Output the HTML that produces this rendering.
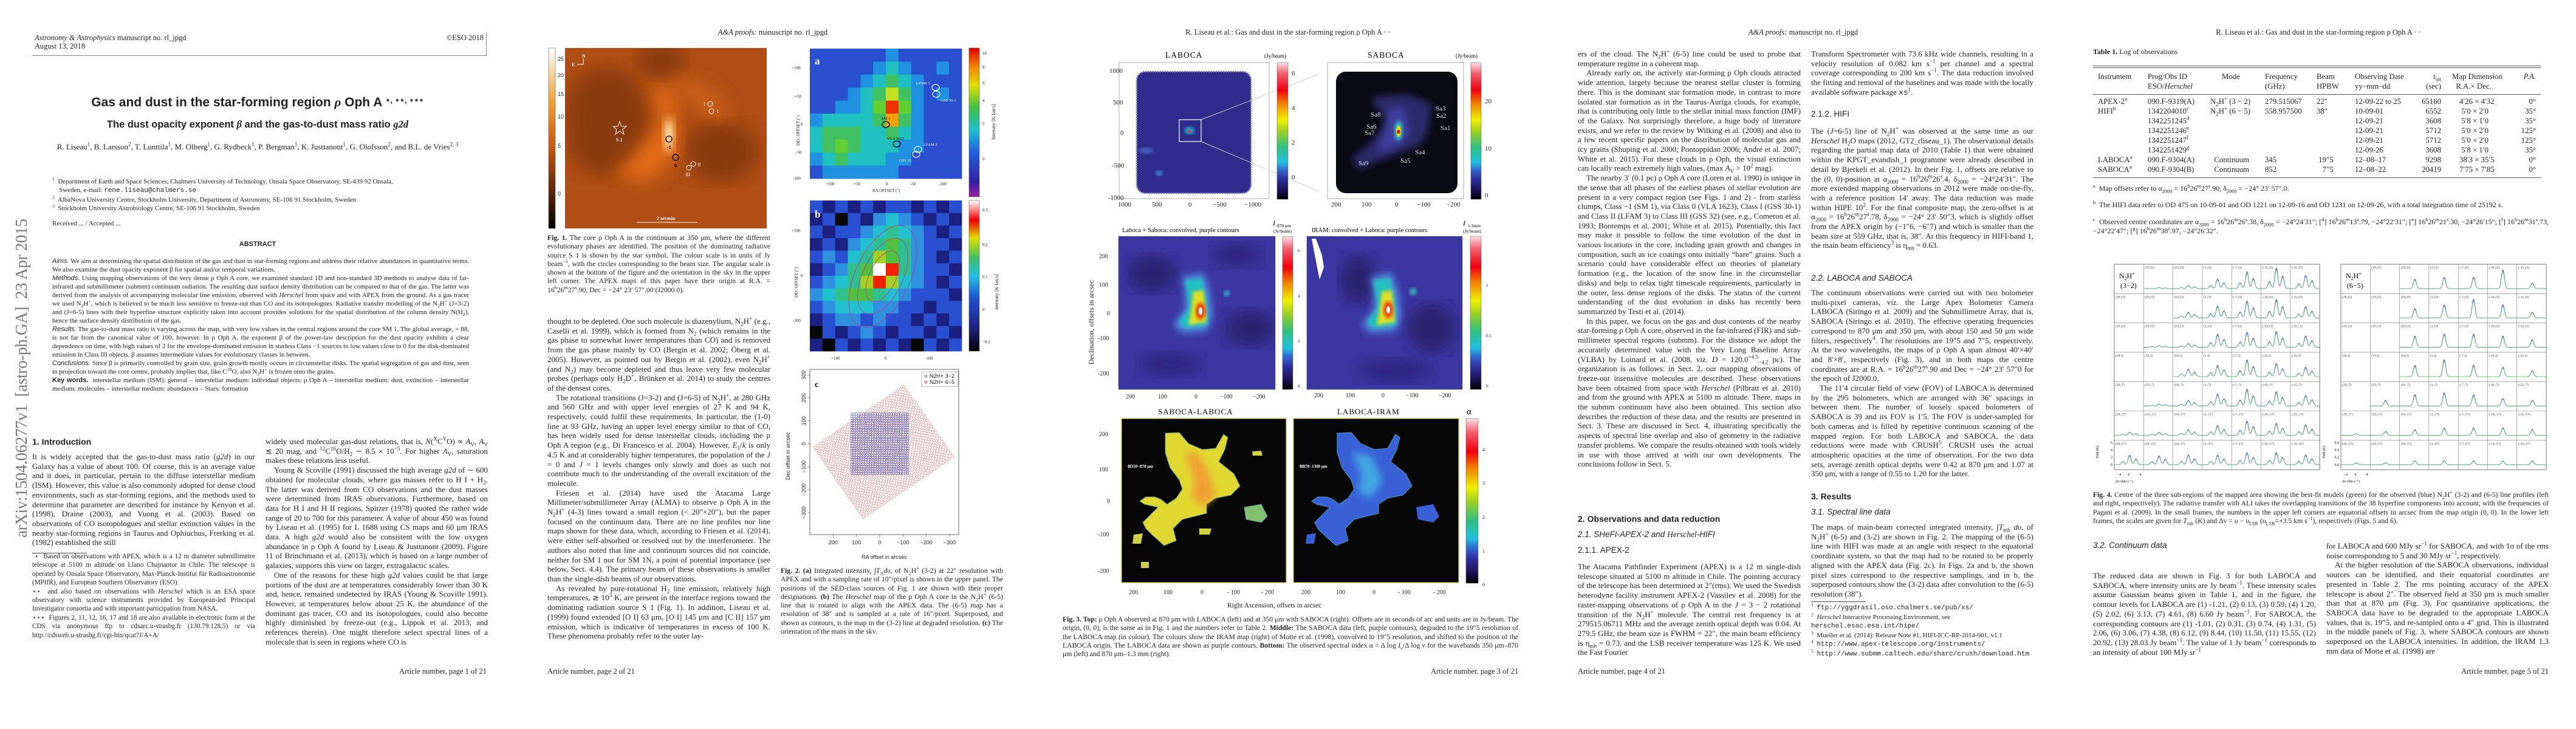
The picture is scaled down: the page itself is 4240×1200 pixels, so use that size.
<!DOCTYPE html>
<html><head><meta charset="utf-8">
<style>
*{margin:0;padding:0;box-sizing:border-box}
body{width:4240px;height:1200px;background:#fff;overflow:hidden;font-family:"Liberation Serif",serif;color:#222}
sup,sub{line-height:0;font-size:70%}
.page{position:absolute;top:0;width:848px;height:1200px;background:#fff;overflow:hidden}
.abs{position:absolute}
.col{position:absolute;font-size:13px;line-height:15.7px;text-align:justify;hyphens:auto;overflow:hidden}
.col p{text-indent:14px}
.col p.ni{text-indent:0}
.cap{position:absolute;font-size:11.7px;line-height:14.3px;text-align:justify;overflow:hidden}
.hdr{position:absolute;top:46px;width:848px;text-align:center;font-size:12.5px}
.pno{position:absolute;top:1098px;font-size:12.5px}
.sec{font-family:"Liberation Sans",sans-serif;font-weight:bold;font-size:14px}
.sub{font-family:"Liberation Sans",sans-serif;font-style:italic;font-size:13.5px}
.sub2{font-family:"Liberation Sans",sans-serif;font-size:13.5px}
.tk{font-family:"Liberation Sans",sans-serif;font-size:9px;fill:#222}
.tks{font-family:"Liberation Serif",serif;font-size:11px;fill:#222}
svg text{font-family:"Liberation Serif",serif}
</style></head><body>

<!-- ================= PAGE 1 ================= -->
<div class="page" style="left:0">
  <div class="abs" style="left:53px;top:53px;width:748px;height:39px;border:1px solid #888;border-top:none;border-left:none;font-size:12.5px;line-height:14px;padding:2px 4px">
    <div><i>Astronomy &amp; Astrophysics</i> manuscript no. rl_jpgd<span style="float:right">©ESO 2018</span></div>
    <div>August 13, 2018</div>
  </div>
  <div class="abs" style="left:20px;top:885px;width:542px;height:36px;transform-origin:0 0;transform:rotate(-90deg);font-size:27px;color:#777;white-space:nowrap;letter-spacing:-0.3px">arXiv:1504.06277v1&nbsp; [astro-ph.GA]&nbsp; 23 Apr 2015</div>
  <div class="abs" style="left:0;width:848px;top:156px;text-align:center;font-family:'Liberation Sans',sans-serif;font-weight:bold;font-size:21px">Gas and dust in the star-forming region <i style="font-family:'Liberation Serif'">ρ</i> Oph A <span style="font-size:13px;vertical-align:6px">⋆, ⋆⋆, ⋆⋆⋆</span></div>
  <div class="abs" style="left:0;width:848px;top:195px;text-align:center;font-family:'Liberation Sans',sans-serif;font-weight:bold;font-size:16.5px">The dust opacity exponent <i style="font-family:'Liberation Serif'">β</i> and the gas-to-dust mass ratio <i style="font-family:'Liberation Serif'">g2d</i></div>
  <div class="abs" style="left:60px;width:728px;top:233px;text-align:center;font-size:13px;line-height:17px">R. Liseau<sup>1</sup>, B. Larsson<sup>2</sup>, T. Lunttila<sup>1</sup>, M. Olberg<sup>1</sup>, G. Rydbeck<sup>1</sup>, P. Bergman<sup>1</sup>, K. Justtanont<sup>1</sup>, G. Olofsson<sup>2</sup>, and B.L. de Vries<sup>2, 3</sup></div>
  <div class="abs" style="left:86px;width:686px;top:292px;font-size:11px;line-height:14.3px">
    <div><sup>1</sup>&nbsp; Department of Earth and Space Sciences, Chalmers University of Technology, Onsala Space Observatory, SE-439 92 Onsala,<br>&nbsp;&nbsp;&nbsp; Sweden, e-mail: <span style="font-family:'Liberation Mono'">rene.liseau@chalmers.se</span></div>
    <div><sup>2</sup>&nbsp; AlbaNova University Centre, Stockholm University, Department of Astronomy, SE-106 91 Stockholm, Sweden</div>
    <div><sup>3</sup>&nbsp; Stockholm University Astrobiology Centre, SE-106 91 Stockholm, Sweden</div>
    <div style="margin-top:11px">Received ... / Accepted ...</div>
  </div>
  <div class="abs" style="left:0;width:848px;top:396px;text-align:center;font-family:'Liberation Sans';font-weight:bold;font-size:11px">ABSTRACT</div>
  <div class="abs" style="left:86px;width:686px;top:423px;height:265px;font-size:11px;line-height:14px;text-align:justify;overflow:hidden">
    <i style="font-family:'Liberation Sans'">Aims.</i> We aim at determining the spatial distribution of the gas and dust in star-forming regions and address their relative abundances in quantitative terms. We also examine the dust opacity exponent β for spatial and/or temporal variations.<br>
    <i style="font-family:'Liberation Sans'">Methods.</i> Using mapping observations of the very dense ρ Oph A core, we examined standard 1D and non-standard 3D methods to analyse data of far-infrared and submillimeter (submm) continuum radiation. The resulting dust surface density distribution can be compared to that of the gas. The latter was derived from the analysis of accompanying molecular line emission, observed with <i>Herschel</i> from space and with APEX from the ground. As a gas tracer we used N<sub>2</sub>H<sup>+</sup>, which is believed to be much less sensitive to freeze-out than CO and its isotopologues. Radiative transfer modelling of the N<sub>2</sub>H<sup>+</sup> (J=3-2) and (J=6-5) lines with their hyperfine structure explicitly taken into account provides solutions for the spatial distribution of the column density N(H<sub>2</sub>), hence the surface density distribution of the gas.<br>
    <i style="font-family:'Liberation Sans'">Results.</i> The gas-to-dust mass ratio is varying across the map, with very low values in the central regions around the core SM 1. The global average, = 88, is not far from the canonical value of 100, however. In ρ Oph A, the exponent β of the power-law description for the dust opacity exhibits a clear dependence on time, with high values of 2 for the envelope-dominated emission in starless Class −1 sources to low values close to 0 for the disk-dominated emission in Class III objects. β assumes intermediate values for evolutionary classes in between.<br>
    <i style="font-family:'Liberation Sans'">Conclusions.</i> Since β is primarily controlled by grain size, grain growth mostly occurs in circumstellar disks. The spatial segregation of gas and dust, seen in projection toward the core centre, probably implies that, like C<sup>18</sup>O, also N<sub>2</sub>H<sup>+</sup> is frozen onto the grains.<br>
    <b style="font-family:'Liberation Sans'">Key words.</b>&nbsp; interstellar medium (ISM): general – interstellar medium: individual objects: ρ Oph A – interstellar medium: dust, extinction – interstellar medium: molecules – interstellar medium: abundances – Stars: formation
  </div>
  <div class="abs sec" style="left:53px;top:719px">1. Introduction</div>
  <div class="col" style="left:53px;top:744px;width:367px;height:160px">
    <p class="ni">It is widely accepted that the gas-to-dust mass ratio (<i>g2d</i>) in our Galaxy has a value of about 100. Of course, this is an average value and it does, in particular, pertain to the diffuse interstellar medium (ISM). However, this value is also commonly adopted for dense cloud environments, such as star-forming regions, and the methods used to determine that parameter are described for instance by Kenyon et al. (1998), Draine (2003), and Vuong et al. (2003). Based on observations of CO isotopologues and stellar extinction values in the nearby star-forming regions in Taurus and Ophiuchus, Frerking et al. (1982) established the still</p>
  </div>
  <div class="abs" style="left:53px;top:910px;width:90px;border-top:1px solid #444"></div>
  <div class="abs" style="left:53px;top:909px;width:367px;height:170px;font-size:11.2px;line-height:14.4px;text-align:justify;overflow:hidden">
    <div>&nbsp;⋆&nbsp; Based on observations with APEX, which is a 12 m diameter submillimetre telescope at 5100 m altitude on Llano Chajnantor in Chile. The telescope is operated by Onsala Space Observatory, Max-Planck-Institut für Radioastronomie (MPIfR), and European Southern Observatory (ESO).</div>
    <div>⋆⋆&nbsp; and also based on observations with <i>Herschel</i> which is an ESA space observatory with science instruments provided by European-led Principal Investigator consortia and with important participation from NASA.</div>
    <div>⋆⋆⋆&nbsp; Figures 2, 11, 12, 16, 17 and 18 are also available in electronic form at the CDS via anonymous ftp to cdsarc.u-strasbg.fr (130.79.128.5) or via http://cdsweb.u-strasbg.fr/cgi-bin/qcat?J/A+A/</div>
  </div>
  <div class="col" style="left:437px;top:719px;width:366px;height:362px">
    <p class="ni">widely used molecular gas-dust relations, that is, <i>N</i>(<sup>X</sup>C<sup>Y</sup>O) ∝ <i>A</i><sub>V</sub>, <i>A</i><sub>V</sub> ≲ 20 mag, and <sup>12</sup>C<sup>16</sup>O/H<sub>2</sub> ∼ 8.5 × 10<sup>−5</sup>. For higher <i>A</i><sub>V</sub>, saturation makes these relations less useful.</p>
    <p>Young &amp; Scoville (1991) discussed the high average <i>g2d</i> of ∼ 600 obtained for molecular clouds, where gas masses refer to H I + H<sub>2</sub>. The latter was derived from CO observations and the dust masses were determined from IRAS observations. Furthermore, based on data for H I and H II regions, Spitzer (1978) quoted the rather wide range of 20 to 700 for this parameter. A value of about 450 was found by Liseau et al. (1995) for L 1688 using CS maps and 60 μm IRAS data. A high <i>g2d</i> would also be consistent with the low oxygen abundance in ρ Oph A found by Liseau &amp; Justtanont (2009). Figure 11 of Brinchmann et al. (2013), which is based on a large number of galaxies, supports this view on larger, extragalactic scales.</p>
    <p>One of the reasons for these high <i>g2d</i> values could be that large portions of the dust are at temperatures considerably lower than 30 K and, hence, remained undetected by IRAS (Young &amp; Scoville 1991). However, at temperatures below about 25 K, the abundance of the dominant gas tracer, CO and its isotopologues, could also become highly diminished by freeze-out (e.g., Lippok et al. 2013, and references therein). One might therefore select spectral lines of a molecule that is seen in regions where CO is</p>
  </div>
  <div class="pno" style="right:47px">Article number, page 1 of 21</div>
</div>

<!-- ================= PAGE 2 ================= -->
<div class="page" style="left:848px">
  <div class="hdr"><i>A&amp;A proofs:</i> manuscript no. rl_jpgd</div>
  <svg class="abs" style="left:0;top:0" width="848" height="1200">
    <defs>
      <linearGradient id="cbOr" x1="0" y1="1" x2="0" y2="0">
        <stop offset="0" stop-color="#000"/><stop offset="0.2" stop-color="#5a2408"/><stop offset="0.45" stop-color="#c8560e"/><stop offset="0.7" stop-color="#f0a030"/><stop offset="1" stop-color="#fff"/>
      </linearGradient>
      <linearGradient id="cbJet" x1="0" y1="1" x2="0" y2="0">
        <stop offset="0" stop-color="#a020a0"/><stop offset="0.1" stop-color="#3020a0"/><stop offset="0.3" stop-color="#2060e0"/><stop offset="0.45" stop-color="#20c0d0"/><stop offset="0.6" stop-color="#40c040"/><stop offset="0.75" stop-color="#e0e000"/><stop offset="0.88" stop-color="#f08000"/><stop offset="1" stop-color="#e00000"/>
      </linearGradient>
      <linearGradient id="cbJet2" x1="0" y1="1" x2="0" y2="0">
        <stop offset="0" stop-color="#000"/><stop offset="0.15" stop-color="#202080"/><stop offset="0.35" stop-color="#2050d0"/><stop offset="0.5" stop-color="#20c0e0"/><stop offset="0.62" stop-color="#40c060"/><stop offset="0.75" stop-color="#e0e000"/><stop offset="0.87" stop-color="#f00000"/><stop offset="1" stop-color="#fff"/>
      </linearGradient>
      <filter id="bl8"><feGaussianBlur stdDeviation="8"/></filter>
      <filter id="bl14"><feGaussianBlur stdDeviation="14"/></filter>
      <clipPath id="f1clip"><rect x="82" y="79" width="332" height="297"/></clipPath>
    </defs>
    <g>
      <rect x="55" y="79" width="11" height="297" fill="url(#cbOr)" stroke="#666" stroke-width="0.6"/>
      <text class="tk" x="70" y="100" font-size="6">25</text><text class="tk" x="70" y="127" font-size="6">20</text><text class="tk" x="70" y="158" font-size="6">15</text><text class="tk" x="70" y="195" font-size="6">10</text><text class="tk" x="70" y="243" font-size="6">5</text><text class="tk" x="70" y="322" font-size="6">0</text>
    </g>
    <g clip-path="url(#f1clip)">
      <rect x="82" y="79" width="332" height="297" fill="#b04e16"/>
      <ellipse cx="150" cy="200" rx="70" ry="90" fill="#8a3a10" filter="url(#bl14)"/>
      <ellipse cx="340" cy="250" rx="60" ry="50" fill="#8a3a10" filter="url(#bl14)"/>
      <ellipse cx="240" cy="100" rx="40" ry="30" fill="#8a3a10" filter="url(#bl14)"/>
      <path d="M225 140 L265 150 L270 250 L220 300 L160 290 L200 250 L240 200 Z" fill="#e26a18" filter="url(#bl14)"/>
      <path d="M260 120 L330 150 L360 200 L320 190 L270 160 Z" fill="#cc5e16" filter="url(#bl14)"/>
      <ellipse cx="253" cy="222" rx="10" ry="30" fill="#f5c070" filter="url(#bl8)"/>
      <ellipse cx="253" cy="222" rx="5" ry="18" fill="#fff8e8" filter="url(#bl8)"/>
      <polygon points="172,200 175,208 183,208 177,213 179,221 172,216 165,221 167,213 161,208 169,208" fill="none" stroke="#fff" stroke-width="1"/>
      <text x="166" y="233" font-size="8" fill="#fff" font-weight="bold">S 1</text>
      <circle cx="253" cy="229" r="5" fill="none" stroke="#000" stroke-width="1.3"/><text x="250" y="245" font-size="8" font-weight="bold">-1</text>
      <circle cx="264" cy="259" r="5" fill="none" stroke="#000" stroke-width="1.3"/><text x="262" y="275" font-size="8" font-weight="bold">0</text>
      <circle cx="321" cy="171" r="4" fill="none" stroke="#fff"/><text x="310" y="174" font-size="8" fill="#fff">I</text>
      <circle cx="323" cy="183" r="4" fill="none" stroke="#fff"/><text x="332" y="186" font-size="8" fill="#fff">I</text>
      <circle cx="293" cy="270" r="4" fill="none" stroke="#fff"/><circle cx="286" cy="276" r="4" fill="none" stroke="#fff"/>
      <text x="300" y="274" font-size="8" fill="#fff">II</text><text x="280" y="290" font-size="8" fill="#fff">III</text>
      <line x1="200" y1="366" x2="300" y2="366" stroke="#fff" stroke-width="1"/><text x="233" y="362" font-size="8" fill="#fff" font-weight="bold">2 arcmin</text>
      <text x="93" y="109" font-size="8" fill="#fff" font-weight="bold">E</text><text x="110" y="95" font-size="8" fill="#fff" font-weight="bold">N</text>
      <path d="M102 106 H112 V96" fill="none" stroke="#fff"/>
    </g>
    <g id="fig2a"></g>
    <g id="fig2b"></g>
    <rect x="747" y="79" width="17" height="245" fill="url(#cbJet)" stroke="#444" stroke-width="0.5"/>
    <rect x="747" y="330" width="17" height="248" fill="url(#cbJet2)" stroke="#444" stroke-width="0.5"/>
    <g class="tk" font-size="7">
      <text x="769" y="90" font-size="7">10</text><text x="769" y="113" font-size="7">8</text><text x="769" y="139" font-size="7">6</text><text x="769" y="168" font-size="7">4</text><text x="769" y="206" font-size="7">2</text><text x="769" y="264" font-size="7">0</text>
      <text x="769" y="348" font-size="7">0.3</text><text x="769" y="405" font-size="7">0.2</text><text x="769" y="458" font-size="7">0.1</text><text x="769" y="512" font-size="7">0</text><text x="769" y="565" font-size="7">−0.1</text>
      <text x="790" y="230" font-size="8" transform="rotate(-90 790 230)">Intensity [K km/s]</text>
      <text x="795" y="510" font-size="8" transform="rotate(-90 795 510)">Intensity [K km/s]</text>
      <text x="455" y="114" font-size="7">+100</text><text x="460" y="161" font-size="7">+50</text><text x="470" y="207" font-size="7">0</text><text x="462" y="253" font-size="7">-50</text><text x="457" y="296" font-size="7">-100</text>
      <text x="511" y="305" font-size="7">+100</text><text x="557" y="305" font-size="7">+50</text><text x="610" y="305" font-size="7">0</text><text x="650" y="305" font-size="7">-50</text><text x="697" y="305" font-size="7">-100</text>
      <text x="588" y="316" font-size="7">RA OFFSET (")</text>
      <text x="468" y="240" font-size="7" transform="rotate(-90 468 240)">DEC OFFSET (")</text>
      <text x="455" y="382" font-size="7">+100</text><text x="470" y="456" font-size="7">0</text><text x="457" y="530" font-size="7">-100</text>
      <text x="520" y="592" font-size="7">+100</text><text x="608" y="592" font-size="7">0</text><text x="675" y="592" font-size="7">-100</text>
      <text x="465" y="490" font-size="7" transform="rotate(-90 465 490)">DEC OFFSET (")</text>
    </g>
    <text x="493" y="106" font-size="17" fill="#fff" font-weight="bold">a</text>
    <text x="493" y="358" font-size="17" fill="#fff" font-weight="bold">b</text>
    <rect x="485" y="608" width="245" height="272" fill="#fff" stroke="#444" stroke-width="0.8"/>
    <g id="fig2c"></g>
    <g id="fig2cAxes" class="tk"></g>
    <text x="493" y="637" font-size="14" font-weight="bold" font-family="Liberation Sans">c</text>
    <rect x="669" y="612" width="60" height="24" fill="#fff" stroke="#666" stroke-width="0.5"/>
    <circle cx="676" cy="619" r="2" fill="none" stroke="#3040b0" stroke-width="0.8"/><text class="tk" x="682" y="622" font-size="7">N2H+ 3−2</text>
    <circle cx="676" cy="629" r="2" fill="none" stroke="#d02020" stroke-width="0.8"/><text class="tk" x="682" y="632" font-size="7">N2H+ 6−5</text>
    <text class="tk" x="570" y="920" font-size="8">RA offset in arcsec</text>
    <text class="tk" x="452" y="790" font-size="8" transform="rotate(-90 452 790)">Dec offset in arcsec</text>
  </svg>
  <div class="cap" style="left:53px;top:385px;width:367px;height:100px"><b>Fig. 1.</b> The core ρ Oph A in the continuum at 350 μm, where the different evolutionary phases are identified. The position of the dominating radiative source S 1 is shown by the star symbol. The colour scale is in units of Jy beam<sup>−1</sup>, with the circles corresponding to the beam size. The angular scale is shown at the bottom of the figure and the orientation in the sky in the upper left corner. The APEX maps of this paper have their origin at R.A. = 16<sup>h</sup>26<sup>m</sup>27<sup>s</sup>.90, Dec = −24° 23′ 57″.00 (J2000.0).</div>
  <div class="col" style="left:53px;top:521px;width:367px;height:558px">
    <p class="ni">thought to be depleted. One such molecule is diazenylium, N<sub>2</sub>H<sup>+</sup> (e.g., Caselli et al. 1999), which is formed from N<sub>2</sub> (which remains in the gas phase to somewhat lower temperatures than CO) and is removed from the gas phase mainly by CO (Bergin et al. 2002; Öberg et al. 2005). However, as pointed out by Bergin et al. (2002), even N<sub>2</sub>H<sup>+</sup> (and N<sub>2</sub>) may become depleted and thus leave very few molecular probes (perhaps only H<sub>2</sub>D<sup>+</sup>, Brünken et al. 2014) to study the centres of the densest cores.</p>
    <p>The rotational transitions (J=3-2) and (J=6-5) of N<sub>2</sub>H<sup>+</sup>, at 280 GHz and 560 GHz and with upper level energies of 27 K and 94 K, respectively, could fulfil these requirements. In particular, the (1-0) line at 93 GHz, having an upper level energy similar to that of CO, has been widely used for dense interstellar clouds, including the ρ Oph A region (e.g., Di Francesco et al. 2004). However, <i>E</i><sub>1</sub>/<i>k</i> is only 4.5 K and at considerably higher temperatures, the population of the <i>J</i> = 0 and <i>J</i> = 1 levels changes only slowly and does as such not contribute much to the understanding of the overall excitation of the molecule.</p>
    <p>Friesen et al. (2014) have used the Atacama Large Millimeter/submillimeter Array (ALMA) to observe ρ Oph A in the N<sub>2</sub>H<sup>+</sup> (4-3) lines toward a small region (&lt; 20″×20″), but the paper focused on the continuum data. There are no line profiles nor line maps shown for these data, which, according to Friesen et al. (2014), were either self-absorbed or resolved out by the interferometer. The authors also noted that line and continuum sources did not coincide, neither for SM 1 nor for SM 1N, a point of potential importance (see below, Sect. 4.4). The primary beam of these observations is smaller than the single-dish beams of our observations.</p>
    <p>As revealed by pure-rotational H<sub>2</sub> line emission, relatively high temperatures, ≳ 10<sup>3</sup> K, are present in the interface regions toward the dominating radiation source S 1 (Fig. 1). In addition, Liseau et al. (1999) found extended [O I] 63 μm, [O I] 145 μm and [C II] 157 μm emission, which is indicative of temperatures in excess of 100 K. These phenomena probably refer to the outer lay-</p>
  </div>
  <div class="cap" style="left:437px;top:933px;width:366px;height:110px"><b>Fig. 2.</b> <b>(a)</b> Integrated intensity, ∫<i>T</i><sub>A</sub><i>dυ</i>, of N<sub>2</sub>H<sup>+</sup> (3-2) at 22″ resolution with APEX and with a sampling rate of 10″/pixel is shown in the upper panel. The positions of the SED-class sources of Fig. 1 are shown with their proper designations. <b>(b)</b> The <i>Herschel</i> map of the ρ Oph A core in the N<sub>2</sub>H<sup>+</sup> (6-5) line that is rotated to align with the APEX data. The (6-5) map has a resolution of 38″ and is sampled at a rate of 16″/pixel. Superposed, and shown as contours, is the map in the (3-2) line at degraded resolution. <b>(c)</b> The orientation of the maps in the sky.</div>
  <div class="pno" style="left:53px">Article number, page 2 of 21</div>
</div>

<!-- ================= PAGE 3 ================= -->
<div class="page" style="left:1696px">
  <div class="hdr">R. Liseau  et al.: Gas and dust in the star-forming region ρ Oph A · ·</div>
  <svg class="abs" style="left:0;top:0" width="848" height="1200">
    <defs>
      <linearGradient id="jetW" x1="0" y1="1" x2="0" y2="0">
        <stop offset="0" stop-color="#000"/><stop offset="0.06" stop-color="#1a1050"/><stop offset="0.15" stop-color="#3030a0"/><stop offset="0.22" stop-color="#3070d0"/><stop offset="0.27" stop-color="#20c0e0"/><stop offset="0.38" stop-color="#30c080"/><stop offset="0.5" stop-color="#a0d020"/><stop offset="0.58" stop-color="#f0f000"/><stop offset="0.7" stop-color="#f08000"/><stop offset="0.8" stop-color="#f00010"/><stop offset="0.92" stop-color="#f06070"/><stop offset="1" stop-color="#ffe0e8"/>
      </linearGradient>
      <filter id="b3"><feGaussianBlur stdDeviation="3"/></filter>
      <filter id="b6"><feGaussianBlur stdDeviation="6"/></filter>
      <filter id="b12"><feGaussianBlur stdDeviation="12"/></filter>
      <clipPath id="cML"><rect x="145" y="389" width="258" height="252"/></clipPath>
      <clipPath id="cMR"><rect x="455" y="389" width="256" height="252"/></clipPath>
    </defs>
    <text x="222" y="95" font-size="13.5" letter-spacing="1">LABOCA</text><text x="385" y="95" font-size="9">(Jy/beam)</text>
    <text x="555" y="95" font-size="13.5" letter-spacing="1">SABOCA</text><text x="700" y="95" font-size="9">(Jy/beam)</text>
    <g>
      <rect x="146" y="103" width="247" height="224" fill="#fff" stroke="#999" stroke-width="0.8"/>
      <rect x="175" y="118" width="188" height="200" rx="14" fill="#302c8c"/>
      <rect x="175" y="118" width="188" height="200" rx="14" fill="none" stroke="#7070c0" stroke-width="3" stroke-dasharray="2 2"/>
      <ellipse cx="262" cy="215" rx="8" ry="6" fill="#20b0d0" filter="url(#b3)"/><circle cx="262" cy="216" r="2.5" fill="#f03020"/>
      <ellipse cx="190" cy="248" rx="12" ry="5" fill="#4a60c0" filter="url(#b3)"/>
      <ellipse cx="212" cy="285" rx="6" ry="4" fill="#3a90d0" filter="url(#b3)"/>
      <rect x="245" y="197" width="36" height="36" fill="none" stroke="#fff" stroke-width="1.2"/>
      <line x1="281" y1="197" x2="475" y2="122" stroke="#ccc" stroke-width="1"/>
      <line x1="281" y1="233" x2="475" y2="315" stroke="#ccc" stroke-width="1"/>
      <rect x="406" y="103" width="18" height="225" fill="url(#jetW)" stroke="#555" stroke-width="0.5"/>
      <text class="tks" x="130" y="120" font-size="10">1000</text><text class="tks" x="136" y="172" font-size="10">500</text><text class="tks" x="148" y="222" font-size="10">0</text><text class="tks" x="134" y="276" font-size="10">-500</text><text class="tks" x="128" y="329" font-size="10">-1000</text>
      <text class="tks" x="144" y="340" font-size="8">1000</text><text class="tks" x="200" y="340" font-size="8">500</text><text class="tks" x="260" y="340" font-size="8">0</text><text class="tks" x="300" y="340" font-size="8">−500</text><text class="tks" x="352" y="340" font-size="8">−1000</text>
      <text class="tks" x="430" y="124" font-size="7">6</text><text class="tks" x="430" y="181" font-size="7">4</text><text class="tks" x="430" y="238" font-size="7">2</text><text class="tks" x="430" y="295" font-size="7">0</text>
    </g>
    <g>
      <rect x="489" y="103" width="224" height="224" fill="#fff" stroke="#999" stroke-width="0.8"/>
      <rect x="503" y="118" width="200" height="200" rx="16" fill="#0a0a14"/>
      <path d="M560 160 L620 155 L660 170 L655 215 L640 240 L600 255 L560 270 L540 280 L530 260 L560 235 L585 200 Z" fill="#2a2a6a" filter="url(#b6)"/>
      <path d="M590 180 L615 175 L625 220 L605 240 L570 250 L585 215 Z" fill="#4040a0" filter="url(#b6)"/>
      <ellipse cx="606" cy="215" rx="7" ry="16" fill="#30c0c0" filter="url(#b3)"/>
      <ellipse cx="606" cy="216" rx="4" ry="9" fill="#f0d000"/><circle cx="606" cy="217" r="3" fill="#e01010"/>
      <text class="tks" x="560" y="192" font-size="6" style="fill:#ddd">Sa8</text><text class="tks" x="553" y="212" font-size="6" style="fill:#ddd">Sa6</text><text class="tks" x="550" y="222" font-size="6" style="fill:#ddd">Sa7</text>
      <text class="tks" x="667" y="182" font-size="6" style="fill:#ddd">Sa3</text><text class="tks" x="668" y="194" font-size="6" style="fill:#ddd">Sa2</text><text class="tks" x="675" y="214" font-size="6" style="fill:#ddd">Sa1</text><text class="tks" x="633" y="254" font-size="6" style="fill:#ddd">Sa4</text><text class="tks" x="609" y="268" font-size="6" style="fill:#ddd">Sa5</text><text class="tks" x="540" y="272" font-size="6" style="fill:#ddd">Sa9</text>
      <rect x="725" y="103" width="17" height="225" fill="url(#jetW)" stroke="#555" stroke-width="0.5"/>
      <text class="tks" x="495" y="340" font-size="8">200</text><text class="tks" x="545" y="340" font-size="8">100</text><text class="tks" x="600" y="340" font-size="8">0</text><text class="tks" x="636" y="340" font-size="8">−100</text><text class="tks" x="685" y="340" font-size="8">−200</text>
      <text class="tks" x="748" y="170" font-size="7">20</text><text class="tks" x="748" y="248" font-size="7">10</text><text class="tks" x="748" y="325" font-size="7">0</text>
    </g>
    <text x="151" y="382" font-size="10.5">Laboca + Saboca: convolved, purple contours</text>
    <text x="463" y="382" font-size="10.5">IRAM: convolved + Laboca: purple contours</text>
    <text x="399" y="371" font-size="12" font-style="italic">I</text><text x="406" y="374" font-size="7.5">870 μm</text><text x="400" y="383" font-size="7.5">(Jy/beam)</text>
    <text x="712" y="371" font-size="12" font-style="italic">I</text><text x="720" y="374" font-size="7.5">1.3mm</text><text x="712" y="383" font-size="7.5">(Jy/beam)</text>
    <g clip-path="url(#cML)">
      <rect x="145" y="389" width="258" height="252" fill="#3b36a2"/>
      <ellipse cx="200" cy="450" rx="40" ry="30" fill="#2a2070" filter="url(#b12)"/>
      <ellipse cx="360" cy="540" rx="40" ry="30" fill="#2a2070" filter="url(#b12)"/>
      <ellipse cx="230" cy="600" rx="50" ry="20" fill="#2e2680" filter="url(#b12)"/>
      <ellipse cx="340" cy="420" rx="40" ry="20" fill="#2e2680" filter="url(#b12)"/>
      <path d="M250 455 L285 450 L295 480 L300 520 L290 545 L250 548 L235 535 L255 510 L255 480 Z" fill="#5090e0" filter="url(#b6)"/>
      <path d="M255 462 L282 458 L290 500 L292 535 L255 540 L245 530 L262 505 Z" fill="#20c0c0" filter="url(#b3)"/>
      <path d="M268 480 L285 478 L290 530 L260 535 L265 510 Z" fill="#e0e020" filter="url(#b3)"/>
      <ellipse cx="280" cy="512" rx="8" ry="14" fill="#f04010" filter="url(#b3)"/>
      <ellipse cx="280" cy="512" rx="3" ry="6" fill="#fff"/>
      <circle cx="323" cy="483" r="5" fill="#30b0d0" filter="url(#b3)"/>
    </g>
    <rect x="145" y="389" width="258" height="252" fill="none" stroke="#555" stroke-width="0.6"/>
    <g clip-path="url(#cMR)">
      <rect x="455" y="389" width="256" height="252" fill="#3b36a2"/>
      <ellipse cx="540" cy="460" rx="30" ry="40" fill="#2a2070" filter="url(#b12)"/>
      <ellipse cx="660" cy="540" rx="40" ry="40" fill="#2a2070" filter="url(#b12)"/>
      <ellipse cx="600" cy="610" rx="60" ry="20" fill="#2e2680" filter="url(#b12)"/>
      <path d="M560 455 L595 450 L605 480 L610 520 L600 545 L560 548 L545 535 L565 510 L565 480 Z" fill="#5090e0" filter="url(#b6)"/>
      <path d="M565 462 L592 458 L600 500 L602 535 L565 540 L555 530 L572 505 Z" fill="#20c0c0" filter="url(#b3)"/>
      <path d="M578 480 L595 478 L600 530 L570 535 L575 510 Z" fill="#e0e020" filter="url(#b3)"/>
      <ellipse cx="589" cy="510" rx="8" ry="14" fill="#f04010" filter="url(#b3)"/>
      <ellipse cx="589" cy="510" rx="3" ry="6" fill="#fff"/>
      <circle cx="630" cy="480" r="6" fill="#30b0b0" filter="url(#b3)"/>
      <path d="M463 393 L470 393 L480 420 L483 440 L476 460 L470 430 Z" fill="#fff"/>
    </g>
    <rect x="455" y="389" width="256" height="252" fill="none" stroke="#555" stroke-width="0.6"/>
    <rect x="415" y="389" width="17" height="252" fill="url(#jetW)" stroke="#555" stroke-width="0.5"/>
    <rect x="724" y="389" width="18" height="252" fill="url(#jetW)" stroke="#555" stroke-width="0.5"/>
    <g class="tks" font-size="9">
      <text x="440" y="415" font-size="7">6</text><text x="440" y="490" font-size="7">4</text><text x="440" y="564" font-size="7">2</text><text x="440" y="638" font-size="7">0</text>
      <text x="750" y="472" font-size="7">1</text><text x="750" y="555" font-size="7">0.5</text><text x="750" y="638" font-size="7">0</text>
      <text x="113" y="425" font-size="10">200</text><text x="113" y="472" font-size="10">100</text><text x="126" y="519" font-size="10">0</text><text x="111" y="560" font-size="10">-100</text><text x="111" y="618" font-size="10">-200</text>
      <text x="157" y="656" font-size="10">200</text><text x="210" y="656" font-size="10">100</text><text x="270" y="656" font-size="10">0</text><text x="312" y="656" font-size="10">−100</text><text x="366" y="656" font-size="10">−200</text>
      <text x="467" y="654" font-size="10">200</text><text x="519" y="654" font-size="10">100</text><text x="578" y="654" font-size="10">0</text><text x="618" y="654" font-size="10">−100</text><text x="672" y="654" font-size="10">−200</text>
      <text x="104" y="600" font-size="12" transform="rotate(-90 104 600)">Declination, offsets in arcsec</text>
    </g>
    <text x="210" y="682" font-size="13" letter-spacing="1">SABOCA-LABOCA</text>
    <text x="505" y="682" font-size="13" letter-spacing="1">LABOCA-IRAM</text>
    <text x="718" y="682" font-size="15">α</text>
    <g>
      <rect x="150" y="689" width="271" height="270" fill="#070707" stroke="#c8c040" stroke-width="1.2"/>
      <path d="M222 713 L245 712 L260 730 L283 740 L305 738 L318 715 L325 720 L320 740 L310 760 L335 780 L345 800 L330 815 L305 820 L290 830 L290 845 L270 850 L250 855 L235 870 L240 890 L220 898 L200 880 L190 870 L185 860 L210 835 L188 830 L180 825 L190 818 L205 818 L215 822 L225 830 L240 820 L250 805 L245 790 L230 770 L222 745 Z" fill="#e0d830" stroke="#60a0a0" stroke-width="1"/>
      <path d="M255 745 L275 745 L295 780 L305 815 L285 835 L265 820 L270 790 Z" fill="#f0a030" filter="url(#b6)"/>
      <path d="M352 835 L380 830 L390 850 L380 860 L355 855 Z" fill="#80c070" stroke="#6090a0"/>
      <path d="M170 880 L185 878 L182 895 L168 895 Z" fill="#d0d040"/>
      <path d="M278 870 L298 870 L295 880 L278 880 Z" fill="#d0d040"/>
      <path d="M182 925 L195 925 L195 935 L182 935 Z" fill="#d0d040"/>
      <path d="M365 743 L380 742 L382 750 L366 750 Z" fill="#d0d040"/>
      <text x="160" y="770" font-size="10" fill="#fff" font-weight="bold">α<tspan font-size="7">350−870 μm</tspan></text>
    </g>
    <g>
      <rect x="433" y="689" width="272" height="270" fill="#070707" stroke="#c8c040" stroke-width="1.2"/>
      <path d="M505 713 L528 712 L543 730 L566 740 L588 738 L601 715 L608 720 L603 740 L593 760 L618 780 L628 800 L613 815 L588 820 L573 830 L573 845 L553 850 L533 855 L518 870 L523 890 L503 898 L483 880 L473 870 L468 860 L493 835 L471 830 L463 825 L473 818 L488 818 L498 822 L508 830 L523 820 L533 805 L528 790 L513 770 L505 745 Z" fill="#3a60d8" stroke="#40a0c0" stroke-width="1"/>
      <path d="M530 745 L560 750 L580 790 L560 820 L540 810 L545 780 Z" fill="#40a8e0" filter="url(#b6)"/>
      <path d="M635 835 L663 830 L673 850 L663 860 L638 855 Z" fill="#3a60d8"/>
      <path d="M455 880 L470 878 L467 895 L453 895 Z" fill="#3a60d8"/>
      <text x="443" y="770" font-size="10" fill="#fff" font-weight="bold">α<tspan font-size="7">870−1300 μm</tspan></text>
    </g>
    <rect x="717" y="689" width="20" height="271" fill="url(#jetW)" stroke="#555" stroke-width="0.5"/>
    <g class="tks">
      <text x="744" y="743" font-size="8">4</text><text x="744" y="798" font-size="8">3</text><text x="744" y="854" font-size="8">2</text><text x="744" y="910" font-size="8">1</text><text x="744" y="965" font-size="8">0</text>
      <text x="113" y="718" font-size="10">200</text><text x="113" y="776" font-size="10">100</text><text x="126" y="828" font-size="10">0</text><text x="111" y="883" font-size="10">-100</text><text x="111" y="943" font-size="10">-200</text>
      <text x="162" y="978" font-size="10">200</text><text x="219" y="978" font-size="10">100</text><text x="280" y="978" font-size="10">0</text><text x="324" y="978" font-size="10">- 100</text><text x="380" y="978" font-size="10">- 200</text>
      <text x="446" y="978" font-size="10">200</text><text x="503" y="978" font-size="10">100</text><text x="563" y="978" font-size="10">0</text><text x="605" y="978" font-size="10">- 100</text><text x="663" y="978" font-size="10">- 200</text>
      <text x="324" y="1000" font-size="11.5">Right Ascension, offsets in arcsec</text>
    </g>
  </svg>
  <div class="cap" style="left:53px;top:1013px;width:750px;height:75px"><b>Fig. 3. Top:</b> ρ Oph A observed at 870 μm with LABOCA (left) and at 350 μm with SABOCA (right). Offsets are in seconds of arc and units are in Jy/beam. The origin, (0, 0), is the same as in Fig. 1 and the numbers refer to Table 2. <b>Middle:</b> The SABOCA data (left, purple contours), degraded to the 19″5 resolution of the LABOCA map (in colour). The colours show the IRAM map (right) of Motte et al. (1998), convolved to 19″5 resolution, and shifted to the position of the LABOCA origin. The LABOCA data are shown as purple contours. <b>Bottom:</b> The observed spectral index α = Δ log <i>I</i><sub>ν</sub>/Δ log ν for the wavebands 350 μm–870 μm (left) and 870 μm–1.3 mm (right).</div>
  <div class="pno" style="right:45px">Article number, page 3 of 21</div>
</div>

<!-- ================= PAGE 4 ================= -->
<div class="page" style="left:2544px">
  <div class="hdr"><i>A&amp;A proofs:</i> manuscript no. rl_jpgd</div>
  <div class="col" style="left:53px;top:81px;width:367px;height:740px">
    <p class="ni">ers of the cloud. The N<sub>2</sub>H<sup>+</sup> (6-5) line could be used to probe that temperature regime in a coherent map.</p>
    <p>Already early on, the actively star-forming ρ Oph clouds attracted wide attention, largely because the nearest stellar cluster is forming there. This is the dominant star formation mode, in contrast to more isolated star formation as in the Taurus-Auriga clouds, for example, that is contributing only little to the stellar initial mass function (IMF) of the Galaxy. Not surprisingly therefore, a huge body of literature exists, and we refer to the review by Wilking et al. (2008) and also to a few recent specific papers on the distribution of molecular gas and icy grains (Shuping et al. 2000; Pontoppidan 2006; André et al. 2007; White et al. 2015). For these clouds in ρ Oph, the visual extinction can locally reach extremely high values, (max <i>A</i><sub>V</sub> &gt; 10<sup>2</sup> mag).</p>
    <p>The nearby 3′ (0.1 pc) ρ Oph A core (Loren et al. 1990) is unique in the sense that all phases of the earliest phases of stellar evolution are present in a very compact region (see Figs. 1 and 2) - from starless clumps, Class −1 (SM 1), via Class 0 (VLA 1623), Class I (GSS 30-1) and Class II (LFAM 3) to Class III (GSS 32) (see, e.g., Comeron et al. 1993; Bontemps et al. 2001; White et al. 2015). Potentially, this fact may make it possible to follow the time evolution of the dust in various locations in the core, including grain growth and changes in composition, such as ice coatings onto initially “bare” grains. Such a scenario could have considerable effect on theories of planetary formation (e.g., the location of the snow line in the circumstellar disks) and help to relax tight timescale requirements, particularly in the outer, less dense regions of the disks. The status of the current understanding of the dust evolution in disks has recently been summarized by Testi et al. (2014).</p>
    <p>In this paper, we focus on the gas and dust contents of the nearby star-forming ρ Oph A core, observed in the far-infrared (FIR) and sub-millimeter spectral regions (submm). For the distance we adopt the accurately determined value with the Very Long Baseline Array (VLBA) by Loinard et al. (2008, viz. <i>D</i> = 120.0<sup>+4.5</sup><sub>−4.2</sub> pc). The organization is as follows: in Sect. 2, our mapping observations of freeze-out insensitive molecules are described. These observations have been obtained from space with <i>Herschel</i> (Pilbratt et al. 2010) and from the ground with APEX at 5100 m altitude. There, maps in the submm continuum have also been obtained. This section also describes the reduction of these data, and the results are presented in Sect. 3. These are discussed in Sect. 4, illustrating specifically the aspects of spectral line overlap and also of geometry in the radiative transfer problems. We compare the results obtained with tools widely in use with those arrived at with our own developments. The conclusions follow in Sect. 5.</p>
  </div>
  <div class="abs sec" style="left:53px;top:846px">2. Observations and data reduction</div>
  <div class="abs sub" style="left:53px;top:872px">2.1. SHeFI-APEX-2 and <span style="font-family:'Liberation Serif'">Herschel</span>-HIFI</div>
  <div class="abs sub2" style="left:53px;top:898px">2.1.1. APEX-2</div>
  <div class="col" style="left:53px;top:925px;width:367px;height:156px">
    <p class="ni">The Atacama Pathfinder Experiment (APEX) is a 12 m single-dish telescope situated at 5100 m altitude in Chile. The pointing accuracy of the telescope has been determined at 2″(rms). We used the Swedish heterodyne facility instrument APEX-2 (Vassilev et al. 2008) for the raster-mapping observations of ρ Oph A in the <i>J</i> = 3 − 2 rotational transition of the N<sub>2</sub>H<sup>+</sup> molecule. The central rest frequency is at 279515.06711 MHz and the average zenith optical depth was 0.04. At 279.5 GHz, the beam size is FWHM = 22″, the main beam efficiency is η<sub>mb</sub> = 0.73, and the LSB receiver temperature was 125 K. We used the Fast Fourier</p>
  </div>
  <div class="col" style="left:437px;top:81px;width:366px;height:80px">
    <p class="ni">Transform Spectrometer with 73.6 kHz wide channels, resulting in a velocity resolution of 0.082 km s<sup>−1</sup> per channel and a spectral coverage corresponding to 200 km s<sup>−1</sup>. The data reduction involved the fitting and removal of the baselines and was made with the locally available software package <span style="font-family:'Liberation Mono'">xs</span><sup>1</sup>.</p>
  </div>
  <div class="abs sub2" style="left:437px;top:180px">2.1.2. HIFI</div>
  <div class="col" style="left:437px;top:208px;width:366px;height:220px">
    <p class="ni">The (<i>J</i>=6-5) line of N<sub>2</sub>H<sup>+</sup> was observed at the same time as our <i>Herschel</i> H<sub>2</sub>O maps (2012, GT2_rliseau_1). The observational details regarding the partial map data of 2010 (Table 1) that were obtained within the KPGT_evandish_1 programme were already described in detail by Bjerkeli et al. (2012). In their Fig. 1, offsets are relative to the (0, 0)-position at α<sub>2000</sub> = 16<sup>h</sup>26<sup>m</sup>26<sup>s</sup>.4, δ<sub>2000</sub> = −24°24′31″. The more extended mapping observations in 2012 were made on-the-fly, with a reference position 14′ away. The data reduction was made within HIPE 10<sup>2</sup>. For the final composite map, the zero-offset is at α<sub>2000</sub> = 16<sup>h</sup>26<sup>m</sup>27<sup>s</sup>.78, δ<sub>2000</sub> = −24° 23′ 50″3, which is slightly offset from the APEX origin by (−1″6, −6″7) and which is smaller than the beam size at 559 GHz, that is, 38″. At this frequency in HIFI-band 1, the main beam efficiency<sup>3</sup> is η<sub>mb</sub> = 0.63.</p>
  </div>
  <div class="abs sub" style="left:437px;top:450px">2.2. LABOCA and SABOCA</div>
  <div class="col" style="left:437px;top:474px;width:366px;height:314px">
    <p class="ni">The continuum observations were carried out with two bolometer multi-pixel cameras, viz. the Large Apex Bolometer Camera LABOCA (Siringo et al. 2009) and the Submillimetre Array, that is, SABOCA (Siringo et al. 2010). The effective operating frequencies correspond to 870 μm and 350 μm, with about 150 and 50 μm wide filters, respectively<sup>4</sup>. The resolutions are 19″5 and 7″5, respectively. At the two wavelengths, the maps of ρ Oph A span almost 40′×40′ and 8′×8′, respectively (Fig. 3), and in both maps the centre coordinates are at R.A. = 16<sup>h</sup>26<sup>m</sup>27<sup>s</sup>.90 and Dec = −24° 23′ 57″0 for the epoch of J2000.0.</p>
    <p>The 11′4 circular field of view (FOV) of LABOCA is determined by the 295 bolometers, which are arranged with 36″ spacings in between them. The number of loosely spaced bolometers of SABOCA is 39 and its FOV is 1′5. The FOV is under-sampled for both cameras and is filled by repetitive continuous scanning of the mapped region. For both LABOCA and SABOCA, the data reductions were made with CRUSH<sup>5</sup>. CRUSH uses the actual atmospheric opacities at the time of observation. For the two data sets, average zenith optical depths were 0.42 at 870 μm and 1.07 at 350 μm, with a range of 0.55 to 1.20 for the latter.</p>
  </div>
  <div class="abs sec" style="left:437px;top:809px">3. Results</div>
  <div class="abs sub" style="left:437px;top:835px">3.1. Spectral line data</div>
  <div class="col" style="left:437px;top:860px;width:366px;height:125px">
    <p class="ni">The maps of main-beam corrected integrated intensity, ∫<i>T</i><sub>mb</sub> <i>dυ</i>, of N<sub>2</sub>H<sup>+</sup> (6-5) and (3-2) are shown in Fig. 2. The mapping of the (6-5) line with HIFI was made at an angle with respect to the equatorial coordinate system, so that the map had to be rotated to be properly aligned with the APEX data (Fig. 2c). In Figs. 2a and b, the shown pixel sizes correspond to the respective samplings, and in b, the superposed contours show the (3-2) data after convolution to the (6-5) resolution (38″).</p>
  </div>
  <div class="abs" style="left:437px;top:990px;width:90px;border-top:1px solid #444"></div>
  <div class="abs" style="left:437px;top:993px;width:380px;font-size:11px;line-height:14.6px;white-space:nowrap">
    <div><sup>1</sup>&nbsp; <span style="font-family:'Liberation Mono'">ftp://yggdrasil.oso.chalmers.se/pub/xs/</span></div>
    <div><sup>2</sup>&nbsp; <i>Herschel</i> Interactive Processing Environment, see</div>
    <div><span style="font-family:'Liberation Mono'">herschel.esac.esa.int/hipe/</span></div>
    <div><sup>3</sup>&nbsp; Mueller et al. (2014): Release Note #1, HIFI-ICC-RP-2014-001, v1.1</div>
    <div><sup>4</sup>&nbsp; <span style="font-family:'Liberation Mono'">http://www.apex-telescope.org/instruments/</span></div>
    <div><sup>5</sup>&nbsp; <span style="font-family:'Liberation Mono'">http://www.submm.caltech.edu/sharc/crush/download.htm</span></div>
  </div>
  <div class="pno" style="left:53px">Article number, page 4 of 21</div>
</div>

<!-- ================= PAGE 5 ================= -->
<div class="page" style="left:3392px">
  <div class="hdr">R. Liseau  et al.: Gas and dust in the star-forming region ρ Oph A · ·</div>
  <div class="abs" style="left:53px;top:78px;font-size:12px"><b>Table 1.</b> Log of observations</div>
  <div class="abs" style="left:53px;top:108px;width:737px;height:4px;border-top:1px solid #555;border-bottom:1px solid #555"></div>
  <div class="abs" style="left:53px;top:155px;width:737px;border-top:1px solid #555"></div>
  <div class="abs" style="left:53px;top:292px;width:737px;border-top:1px solid #555"></div>
  <div class="abs" style="left:0;top:119px;width:848px;font-size:12.8px;line-height:15.5px">
    <div class="abs" style="left:61px;top:0">Instrument</div>
    <div class="abs" style="left:143px;top:0">Prog/Obs ID<br>ESO/<i>Herschel</i></div>
    <div class="abs" style="left:265px;top:0">Mode</div>
    <div class="abs" style="left:336px;top:0">Frequency<br>(GHz)</div>
    <div class="abs" style="left:421px;top:0">Beam<br>HPBW</div>
    <div class="abs" style="left:484px;top:0">Observing Date<br>yy–mm–dd</div>
    <div class="abs" style="left:586px;top:0;width:40px;text-align:right"><i>t</i><sub>int</sub><br>(sec)</div>
    <div class="abs" style="left:644px;top:0">Map Dimension<br>&nbsp;&nbsp;R.A.× Dec.</div>
    <div class="abs" style="left:752px;top:0;width:30px;text-align:right"><i>P.A.</i></div>
    <div class="abs" style="left:61px;top:40px;line-height:16px">APEX-2<sup>a</sup><br>HIFI<sup>b</sup><br><br><br><br><br>LABOCA<sup>a</sup><br>SABOCA<sup>a</sup></div>
    <div class="abs" style="left:143px;top:40px;line-height:16px">090.F-9319(A)<br>1342204010<sup>c</sup><br>1342251245<sup>d</sup><br>1342251246<sup>e</sup><br>1342251247<sup>f</sup><br>1342251429<sup>g</sup><br>090.F-9304(A)<br>090.F-9304(B)</div>
    <div class="abs" style="left:246px;top:40px;line-height:16px">N<sub>2</sub>H<sup>+</sup> (3 − 2)<br>N<sub>2</sub>H<sup>+</sup> (6 − 5)<br><br><br><br><br>&nbsp;&nbsp;Continuum<br>&nbsp;&nbsp;Continuum</div>
    <div class="abs" style="left:336px;top:40px;line-height:16px">279.515067<br>558.957500<br><br><br><br><br>345<br>852</div>
    <div class="abs" style="left:421px;top:40px;line-height:16px">22″<br>38″<br><br><br><br><br>&nbsp;19″5<br>&nbsp;&nbsp;&nbsp;7″5</div>
    <div class="abs" style="left:484px;top:40px;line-height:16px">12-09-22 to 25<br>10-09-01<br>12-09-21<br>12-09-21<br>12-09-21<br>12-09-26<br>12–08–17<br>12–08–22</div>
    <div class="abs" style="left:576px;top:40px;width:50px;text-align:right;line-height:16px">65160<br>6552<br>3608<br>5712<br>5712<br>3608<br>9298<br>20419</div>
    <div class="abs" style="left:656px;top:40px;line-height:16px">4′26 × 4′32<br>&nbsp;5′0 × 2′0<br>&nbsp;5′8 × 1′0<br>&nbsp;5′0 × 2′0<br>&nbsp;5′0 × 2′0<br>&nbsp;5′8 × 1′0<br>38′3 × 35′5<br>7′75 × 7′85</div>
    <div class="abs" style="left:752px;top:40px;width:30px;text-align:right;line-height:16px">0°<br>35°<br>35°<br>125°<br>125°<br>35°<br>0°<br>0°</div>
  </div>
  <div class="abs" style="left:53px;top:303px;width:750px;font-size:12px;line-height:15px;text-align:justify">
    <div><sup>a</sup>&nbsp; Map offsets refer to α<sub>2000</sub> = 16<sup>h</sup>26<sup>m</sup>27<sup>s</sup>.90, δ<sub>2000</sub> = −24° 23′ 57″.0.</div>
    <div style="margin-top:12px"><sup>b</sup>&nbsp; The HIFI data refer to OD 475 on 10-09-01 and OD 1221 on 12-09-16 and OD 1231 on 12-09-26, with a total integration time of 25192 s.</div>
    <div style="margin-top:13px"><sup>c</sup>&nbsp; Observed centre coordinates are α<sub>2000</sub> = 16<sup>h</sup>26<sup>m</sup>26<sup>s</sup>.38, δ<sub>2000</sub> = −24°24′31″; [<sup>d</sup>] 16<sup>h</sup>26<sup>m</sup>13<sup>s</sup>.79, −24°22′31″; [<sup>e</sup>] 16<sup>h</sup>26<sup>m</sup>21<sup>s</sup>.30, −24°26′15″; [<sup>f</sup>] 16<sup>h</sup>26<sup>m</sup>31<sup>s</sup>.73, −24°22′47″; [<sup>g</sup>] 16<sup>h</sup>26<sup>m</sup>38<sup>s</sup>.97, −24°26′32″.</div>
  </div>
  <svg class="abs" style="left:0;top:0" width="848" height="1200">
    <g id="fig4L"></g>
    <g id="fig4R"></g>
    <text x="96" y="458" font-size="12">N<tspan font-size="8" dy="3">2</tspan><tspan dy="-3">H</tspan><tspan font-size="8" dy="-5">+</tspan></text>
    <text x="98" y="474" font-size="12">(3−2)</text>
    <text x="469" y="458" font-size="12">N<tspan font-size="8" dy="3">2</tspan><tspan dy="-3">H</tspan><tspan font-size="8" dy="-5">+</tspan></text>
    <text x="471" y="474" font-size="12">(6−5)</text>
  </svg>
  <div class="cap" style="left:53px;top:808px;width:750px;height:60px"><b>Fig. 4.</b> Centre of the three sub-regions of the mapped area showing the best-fit models (green) for the observed (blue) N<sub>2</sub>H<sup>+</sup> (3-2) and (6-5) line profiles (left and right, respectively). The radiative transfer with ALI takes the overlapping transitions of the 38 hyperfine components into account, with the frequencies of Pagani et al. (2009). In the small frames, the numbers in the upper left corners are equatorial offsets in arcsec from the map origin (0, 0). In the lower left frames, the scales are given for <i>T</i><sub>mb</sub> (K) and Δv = υ − υ<sub>LSR</sub> (υ<sub>LSR</sub>=+3.5 km s<sup>−1</sup>), respectively (Figs. 5 and 6).</div>
  <div class="abs sub" style="left:53px;top:890px">3.2. Continuum data</div>
  <div class="col" style="left:53px;top:940px;width:367px;height:142px">
    <p class="ni">The reduced data are shown in Fig. 3 for both LABOCA and SABOCA, where intensity units are Jy beam<sup>−1</sup>. These intensity scales assume Gaussian beams given in Table 1, and in the figure, the contour levels for LABOCA are (1) -1.21, (2) 0.13, (3) 0.59, (4) 1.20, (5) 2.02, (6) 3.13, (7) 4.61, (8) 6.60 Jy beam<sup>−1</sup>. For SABOCA, the corresponding contours are (1) -1.01, (2) 0.31, (3) 0.74, (4) 1.31, (5) 2.06, (6) 3.06, (7) 4.38, (8) 6.12, (9) 8.44, (10) 11.50, (11) 15.55, (12) 20.92, (13) 28.03 Jy beam<sup>−1</sup>. The value of 1 Jy beam<sup>−1</sup> corresponds to an intensity of about 100 MJy sr<sup>−1</sup></p>
  </div>
  <div class="col" style="left:437px;top:891px;width:366px;height:190px">
    <p class="ni">for LABOCA and 600 MJy sr<sup>−1</sup> for SABOCA, and with 1σ of the rms noise corresponding to 5 and 30 MJy sr<sup>−1</sup>, respectively.</p>
    <p>At the higher resolution of the SABOCA observations, individual sources can be identified, and their equatorial coordinates are presented in Table 2. The rms pointing accuracy of the APEX telescope is about 2″. The observed field at 350 μm is much smaller than that at 870 μm (Fig. 3). For quantitative applications, the SABOCA data have to be degraded to the appropriate LABOCA values, that is, 19″5, and re-sampled onto a 4″ grid. This is illustrated in the middle panels of Fig. 3, where SABOCA contours are shown superposed on the LABOCA intensities. In addition, the IRAM 1.3 mm data of Motte et al. (1998) are</p>
  </div>
  <div class="pno" style="right:45px">Article number, page 5 of 21</div>
</div>

<script>
// ---------- Fig 2a / 2b heatmap data (page 2) ----------
const fig2aValues = [
 [1,1,1,1,1,1,2,1,1,1,1,1],
 [1,1,1,1,1,2,3,2,1,1,2,1],
 [1,1,1,1,2,3,4,3,2,1,1,1],
 [1,1,1,2,3,4,6,4,2,1,2,1],
 [1,1,2,2,3,5,9,5,2,1,1,1],
 [2,3,3,3,3,4,8,4,2,1,1,1],
 [3,4,4,4,3,3,4,3,2,1,1,1],
 [3,4,5,4,3,3,3,2,2,1,1,1],
 [2,3,4,3,3,3,2,2,1,1,1,1],
 [1,2,2,2,2,2,2,1,1,1,1,1]
];
const fig2bValues = [
 [2,1,2,1,2,1,2,2,1,2,1,2],
 [1,2,0,2,1,3,4,3,2,1,2,1],
 [2,1,2,2,3,4,5,4,3,2,1,2],
 [1,2,1,3,4,5,6,5,3,2,2,1],
 [2,3,2,4,5,7,6,5,3,2,1,2],
 [1,2,3,5,6,10,9,5,3,2,2,1],
 [2,3,4,5,7,9,7,4,3,2,1,2],
 [3,4,5,6,6,5,4,3,2,2,2,1],
 [2,3,4,4,4,3,3,2,2,1,2,2],
 [1,2,3,3,2,3,2,2,1,2,1,2],
 [0,2,1,2,3,2,1,2,2,1,2,1],
 [1,0,2,1,2,1,2,1,0,2,1,2]
];
const cmapA = ['#3020a0','#2a50d0','#2090e0','#20c0c0','#40c060','#60d030','#c0e020','#f0e000','#f0a000','#f03000','#d00000'];
const cmapB = ['#080808','#1c2080','#2850d0','#3090e0','#20c0d0','#30c090','#50c040','#a0d020','#f0e000','#f02000','#ffffff'];

// ---------- Fig 2c sampling data ----------
const blueRa  = [120,110,100,90,80,70,60,50,40,30,20,10,0,-10,-20,-30,-40,-50,-60,-70,-80,-90,-100,-110,-120];
const blueDec = [130,120,110,100,90,80,70,60,50,40,30,20,10,0,-10,-20,-30,-40,-50,-60,-70,-80,-90,-100,-110,-120,-130];
const redU = [0,16,32,48,64,80,96,112,128,144,160,176,192,208,224,240,256,272,288,304,320,336,352,368,384,400,416,432,448,464];
const redV = [0,16,32,48,64,80,96,112,128,144,160,176,192,208,224,240,256,272,288,304,320,336,352,368];
const redOrigin = [279,-16];
const redAngleDeg = [34.5];
const axisTicksX = [200,100,0,-100,-200,-300];
const axisTicksY = [300,200,100,0,-100,-200,-300];

// ---------- Fig 4 spectra data ----------
const raOffsets = [28,19,10,1,-7,-16,-25];
const decOffsets = [33,23,13,3,-7,-17,-27];
const peaks32 = [
 [-1, 0.3, 0.8, 2.5, 4.5, 5.5, 3.5],
 [-1, -1, 1.5, 3.2, 4.5, 5.0, 3.0],
 [-1, 0.5, 1.0, 3.5, 4.0, 4.2, 3.0],
 [-1, -1, 2.0, 3.0, 4.5, 3.5, 2.5],
 [-1, 0.5, 1.5, 3.2, 4.5, 3.8, 2.8],
 [0.8, 0.8, 1.5, 2.6, 3.8, 3.2, 2.8],
 [2.5, 2.3, 2.6, 2.5, 3.2, 3.2, 2.6]
];
const peaks65 = [
 [-1, -1, 0.25, 0.30, 0.30, 0.50, 0.15],
 [-1, -1, 0.25, 0.35, 0.50, 0.35, 0.15],
 [-1, -1, 0.30, 0.35, 0.35, 0.30, 0.20],
 [-1, -1, 0.30, 0.45, 0.30, 0.25, 0.15],
 [-1, 0.15, 0.30, 0.35, 0.30, 0.20, 0.15],
 [0.05, 0.10, 0.15, 0.20, 0.20, 0.20, 0.15],
 [0.05, 0.05, 0.10, 0.10, 0.10, 0.10, 0.10]
];
const hfsVel32 = [-2.6, 0, 2.4];
const hfsRel32 = [0.35, 1, 0.6];
const hfsVel65 = [0];
const hfsRel65 = [1];
const modelRatio = [0.9];
const ticks32 = ['6','4','2','0'];
const ticks65 = ['0.6','0.4','0.2','0.0'];

const NS = 'http://www.w3.org/2000/svg';
function mk(tag, attrs, parent){ const e = document.createElementNS(NS, tag); for (const k in attrs) e.setAttribute(k, attrs[k]); parent.appendChild(e); return e; }

function drawHeat(gid, vals, cmap, x0, y0, w, h, nm){
  const g = document.getElementById(gid);
  const rows = vals.length, cols = vals[0].length;
  const cw = w / cols, ch = h / rows;
  vals.forEach((row, r) => row.forEach((v, c) => {
    const el = mk('rect', {x: x0 + c*cw, y: y0 + r*ch, width: cw + 0.4, height: ch + 0.4, fill: cmap[Math.max(0, Math.min(10, v))]}, g);
    
    
  }));
}
drawHeat('fig2a', fig2aValues, cmapA, 485, 80, 250, 214, 'fig2a');
drawHeat('fig2b', fig2bValues, cmapB, 485, 330, 250, 248, 'fig2b');
(function(){
  const g = document.getElementById('fig2a');
  [[610,205],[628,237]].forEach(p => {
    const c = mk('ellipse', {cx:p[0], cy:p[1], rx:6, ry:5, fill:'none', stroke:'#000', 'stroke-width':1.3}, g);
    
    
  });
  [[692,144],[693,155],[663,246],[660,254]].forEach(p => mk('ellipse', {cx:p[0], cy:p[1], rx:6, ry:5, fill:'none', stroke:'#fff', 'stroke-width':1.1}, g));
  const t = [['SM 1',603,197,'#000'],['VLA 1623',612,230,'#000'],['LFAM 1',660,139,'#fff'],['GSS 30-1',700,167,'#fff'],['LFAM 3',672,240,'#fff'],['GSS 32',632,266,'#fff']];
  t.forEach(s => { const e = mk('text', {x:s[1], y:s[2], 'font-size':6.5, fill:s[3]}, g); e.textContent = s[0]; });
  const gb = document.getElementById('fig2b');
  [[60,45],[45,33],[30,22]].forEach(r => mk('ellipse', {cx:605, cy:455, rx:r[1], ry:r[0]*1.5, fill:'none', stroke:'#c03090', 'stroke-width':0.8, transform:'rotate(25 605 455)'}, gb));
})();

(function(){
  const g = document.getElementById('fig2c');
  const ax = document.getElementById('fig2cAxes');
  const xS = ra => 600 - ra * 0.383;
  const yS = dec => 730.5 - dec * 0.378;
  const a = redAngleDeg[0] * Math.PI / 180;
  const uDir = [-Math.cos(a), Math.sin(a)];
  const vDir = [-Math.sin(a), -Math.cos(a)];
  redU.forEach(u => redV.forEach(v => {
    const ra = redOrigin[0] + u*uDir[0] + v*vDir[0];
    const dec = redOrigin[1] + u*uDir[1] + v*vDir[1];
    const c = mk('circle', {cx:xS(ra), cy:yS(dec), r:2.3, fill:'none', stroke:'#d02020', 'stroke-width':0.45}, g);
    
    
  }));
  blueRa.forEach(ra => blueDec.forEach(dec => {
    const c = mk('circle', {cx:xS(ra), cy:yS(dec), r:1.9, fill:'none', stroke:'#3040b0', 'stroke-width':0.55}, g);
    
    
  }));
  axisTicksX.forEach(t => {
    mk('line', {x1:xS(t), x2:xS(t), y1:880, y2:884, stroke:'#444', 'stroke-width':0.6}, ax);
    const e = mk('text', {x:xS(t), y:896, 'font-size':8, 'text-anchor':'middle', class:'tk'}, ax); e.textContent = (t < 0 ? '−' + (-t) : t);
    
    
  });
  axisTicksY.forEach(t => {
    mk('line', {x1:481, x2:485, y1:yS(t), y2:yS(t), stroke:'#444', 'stroke-width':0.6}, ax);
    const e = mk('text', {x:478, y:yS(t), 'font-size':7, 'text-anchor':'middle', class:'tk', transform:'rotate(-90 478 ' + yS(t) + ')'}, ax); e.textContent = (t < 0 ? '−' + (-t) : t);
    
    
  });
})();

function drawGrid(gid, x0, y0, peaks, vel, rel, kPerPx, ticks){
  const g = document.getElementById(gid);
  const cw = 48.3, ch = 48.3;
  const vMin = -5.8, vMax = 5.3;
  mk('rect', {x:x0, y:y0, width:cw*7, height:ch*7, fill:'#fff', stroke:'#555', 'stroke-width':0.8}, g);
  for (let i = 1; i < 7; i++){
    mk('line', {x1:x0+i*cw, x2:x0+i*cw, y1:y0, y2:y0+7*ch, stroke:'#777', 'stroke-width':0.6}, g);
    mk('line', {x1:x0, x2:x0+7*cw, y1:y0+i*ch, y2:y0+i*ch, stroke:'#777', 'stroke-width':0.6}, g);
  }
  peaks.forEach((row, r) => row.forEach((pk, c) => {
    const cx = x0 + c*cw, cy = y0 + r*ch;
    if (!(r === 0 && c === 0)) {
      const lb = mk('text', {x:cx+2, y:cy+7, 'font-size':5.5, 'font-family':'Liberation Sans', fill:'#333'}, g);
      lb.textContent = '(' + raOffsets[c] + ',' + decOffsets[r] + ')';
    }
    if (pk < 0) return;
    const base = cy + ch*0.83;
    const xs = v => cx + (v - vMin) / (vMax - vMin) * cw;
    const prof = (v, amp) => vel.reduce((s, vc, k) => s + amp*rel[k]*Math.exp(-0.5*((v-vc)/0.55)**2), 0);
    ['obs','model'].forEach(kind => {
      const amp = kind === 'obs' ? pk : pk*modelRatio[0];
      const pts = [];
      for (let i = 0; i <= 60; i++){
        const v = vMin + (vMax - vMin) * i / 60;
        pts.push(xs(v).toFixed(1) + ',' + (base - prof(v, amp) / kPerPx).toFixed(1));
      }
      const pl = mk('polyline', {points: pts.join(' '), fill:'none', stroke: kind === 'obs' ? '#4a3ad0' : '#6cc870', 'stroke-width': kind === 'obs' ? 1 : 0.9}, g);
      
      
    });
  }));
  ticks.forEach((t, i) => {
    const y = y0 + 6*ch + ch*0.83 - (3 - i) * (ch*0.83 / 3.3);
    const e = mk('text', {x:x0-3, y:y+2, 'font-size':6, 'text-anchor':'end', 'font-family':'Liberation Sans'}, g); e.textContent = t;
  });
  ['−4','0','4'].forEach((t, i) => {
    const e = mk('text', {x:x0 + [8,24,42.6][i], y:y0+7*ch+10, 'font-size':6, 'text-anchor':'middle', 'font-family':'Liberation Sans'}, g); e.textContent = t;
  });
  const xl = mk('text', {x:x0+2, y:y0+7*ch+21, 'font-size':6, 'font-family':'Liberation Sans'}, g); xl.textContent = 'Δv (km s⁻¹)';
  const yl = mk('text', {x:x0-26, y:y0+6*ch+30, 'font-size':6, 'font-family':'Liberation Sans', transform:'rotate(-90 ' + (x0-26) + ' ' + (y0+6*ch+30) + ')'}, g); yl.textContent = 'Tmb (K)';
}
drawGrid('fig4L', 88, 435, peaks32, hfsVel32, hfsRel32, 1/6.2, ticks32);
drawGrid('fig4R', 461, 435, peaks65, hfsVel65, hfsRel65, 1/62, ticks65);
</script>
</body></html>
